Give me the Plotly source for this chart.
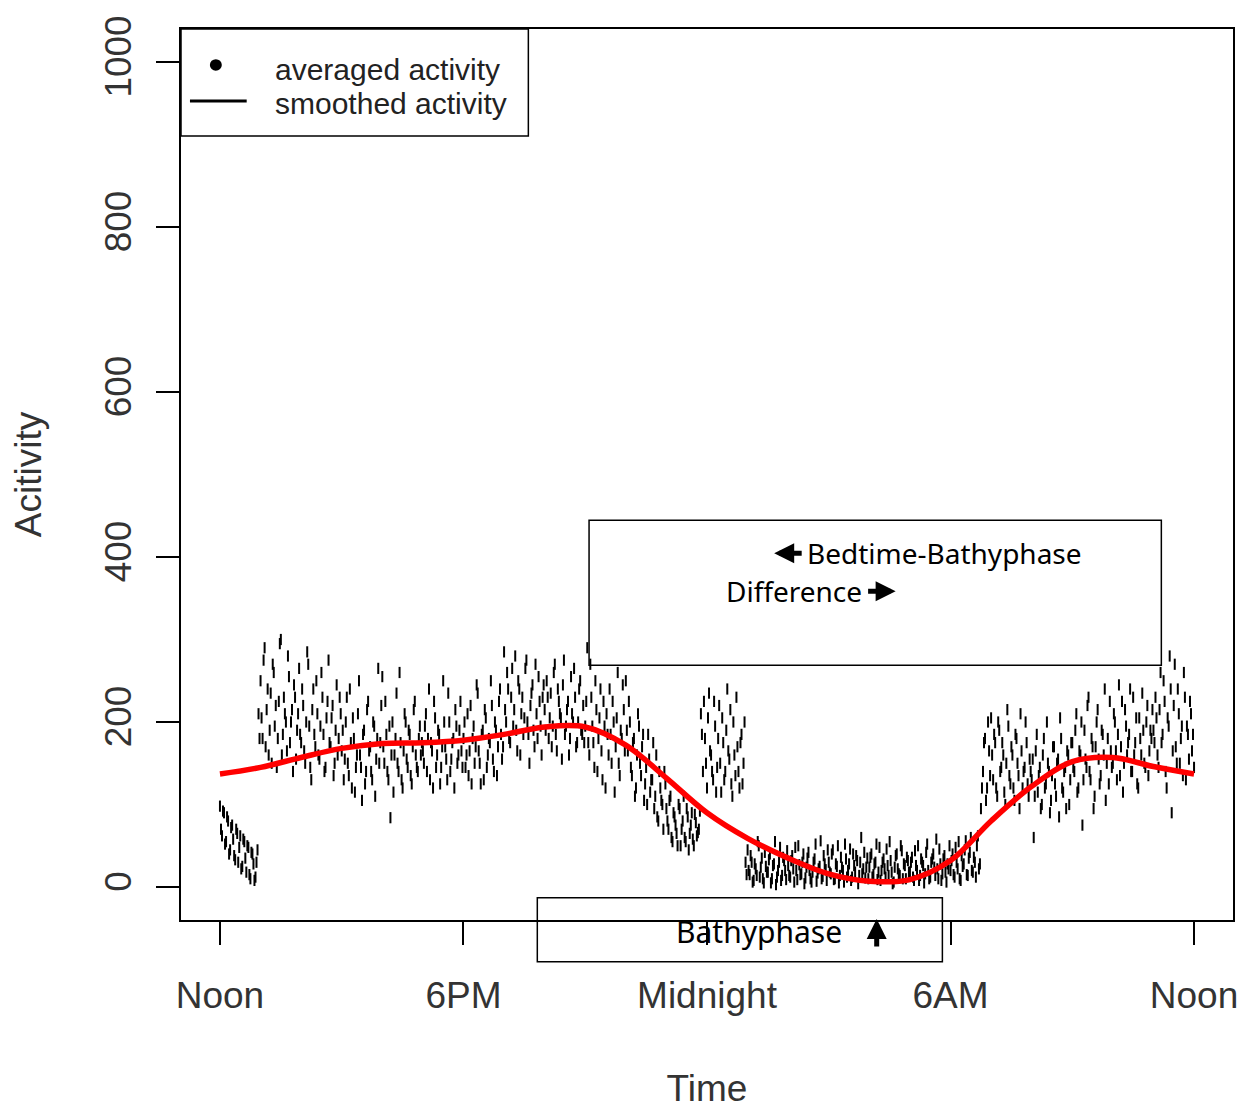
import plotly.graph_objects as go

# ---- data (hours after noon) ----
tick_vals = [0, 6, 12, 18, 24]
tick_text = ["Noon", "6PM", "Midnight", "6AM", "Noon"]
y_ticks = [0, 200, 400, 600, 800, 1000]

# averaged activity, one value every 3 minutes (20 per hour), hour rows
activity_a = [
    98, 62, 90, 55, 80, 45, 75, 38, 70, 30, 62, 25, 55, 18, 48, 10, 40, 8, 30, 210,
    250, 180, 290, 215, 160, 235, 270, 195, 145, 225, 300, 185, 210, 165, 255, 200, 140, 230, 190, 265,
    175, 220, 150, 285, 195, 130, 240, 170, 210, 155, 260, 185, 145, 225, 175, 205, 135, 190, 160, 230,
    165, 130, 200, 150, 240, 120, 180, 145, 210, 160, 105, 190, 140, 225, 170, 130, 195, 155, 265, 175,
    255, 150, 185, 130, 84, 200, 160, 235, 140, 175, 120, 210, 155, 190, 135, 170, 225, 145, 180, 160,
    165, 195, 140, 240, 175, 120, 205, 160, 185, 145, 250, 170, 130, 200, 155, 180, 215, 150, 190, 165,
    180, 145, 210, 165, 125, 195, 170, 235, 150, 185, 130, 205, 160, 175, 220, 140, 190, 170, 240, 155,
    285, 200, 240, 175, 265, 215, 190, 250, 160, 230, 205, 275, 185, 220, 245, 170, 210, 255, 195, 230,
    215, 250, 180, 235, 195, 270, 165, 225, 205, 245, 185, 215, 160, 255, 200, 230, 175, 240, 190, 220,
    195, 290, 160, 230, 175, 250, 140, 205, 165, 225, 120, 185, 240, 150, 200, 170, 260, 135, 180, 215,
    250, 165, 200, 135, 180, 120, 210, 150, 170, 105, 145, 185, 115, 130, 95, 160, 80, 120, 100, 140,
    95, 70, 110, 55, 85, 65, 100, 50, 80, 60, 95, 45, 75, 58, 88, 62, 70, 210, 140, 180,
    120, 235, 160, 130, 195, 145, 220, 115, 175, 140, 240, 155, 125, 200, 135, 170, 120, 185, 150, 30,
    45, 15, 30, 8, 22, 55, 12, 35, 5, 25, 18, 40, 10, 28, 3, 20, 48, 14, 32, 9,
    26, 12, 38, 6, 20, 50, 15, 30, 4, 24, 42, 10, 18, 34, 7, 22, 56, 13, 28, 8,
    30, 16, 45, 10, 25, 5, 36, 20, 52, 12, 28, 8, 40, 18, 32, 14, 60, 22, 11, 35,
    24, 40, 15, 30, 9, 48, 20, 34, 12, 26, 55, 18, 6, 38, 22, 14, 44, 28, 10, 32,
    18, 36, 8, 26, 50, 14, 30, 5, 42, 20, 12, 34, 24, 58, 10, 28, 16, 38, 6, 22,
    20, 40, 12, 30, 55, 8, 25, 45, 15, 35, 60, 18, 30, 50, 22, 95, 140, 180, 120, 165,
    205, 130, 175, 110, 190, 145, 160, 100, 215, 135, 170, 120, 185, 150, 95, 165, 140, 200, 125, 155,
    130, 60, 165, 115, 145, 100, 180, 125, 150, 90, 135, 170, 110, 155, 205, 120, 140, 95, 160, 130,
    175, 140, 210, 120, 160, 75, 190, 145, 230, 130, 170, 110, 200, 155, 135, 185, 240, 150, 125, 165,
    150, 200, 130, 245, 170, 115, 215, 160, 185, 140, 230, 175, 125, 205, 160, 190, 145, 220, 165, 180,
    190, 230, 160, 215, 175, 250, 140, 205, 280, 90, 220, 170, 240, 150, 195, 260, 130, 185, 225, 165,
    145,
]
# the in-between minutes (offset by 1.5 minutes), same hour rows
activity_b = [
    70, 92, 52, 85, 40, 72, 58, 33, 65, 48, 22, 58, 35, 50, 15, 42, 28, 12, 45, 180,
    205, 275, 170, 240, 190, 150, 260, 220, 180, 295, 160, 230, 200, 280, 175, 215, 245, 155, 210, 185,
    240, 165, 200, 270, 145, 215, 185, 250, 160, 195, 230, 140, 205, 275, 170, 220, 150, 245, 180, 210,
    190, 155, 230, 135, 175, 205, 115, 160, 250, 145, 185, 125, 215, 165, 140, 200, 110, 180, 150, 220,
    170, 225, 140, 195, 160, 115, 180, 150, 260, 130, 165, 200, 145, 185, 125, 215, 160, 140, 195, 175,
    150, 210, 180, 130, 165, 225, 145, 190, 125, 170, 200, 155, 235, 140, 175, 120, 195, 160, 225, 145,
    200, 160, 135, 220, 180, 150, 245, 165, 125, 190, 215, 145, 180, 250, 155, 200, 135, 225, 185, 170,
    215, 260, 180, 230, 195, 280, 165, 240, 210, 185, 265, 200, 150, 235, 190, 270, 180, 225, 160, 245,
    190, 230, 205, 170, 260, 185, 240, 210, 155, 275, 195, 225, 180, 210, 265, 170, 200, 250, 185, 175,
    225, 175, 270, 195, 145, 215, 180, 240, 130, 195, 210, 160, 185, 225, 115, 205, 150, 190, 245, 165,
    190, 225, 145, 175, 110, 160, 195, 135, 185, 125, 100, 155, 130, 175, 110, 85, 140, 105, 70, 125,
    80, 105, 60, 90, 75, 50, 95, 70, 110, 55, 85, 65, 90, 50, 78, 66, 92, 185, 225, 150,
    205, 165, 140, 225, 115, 180, 150, 205, 130, 190, 165, 215, 110, 160, 230, 140, 175, 125, 200, 15,
    20, 38, 6, 28, 14, 50, 24, 10, 42, 18, 33, 5, 26, 55, 12, 30, 8, 36, 20, 44,
    14, 32, 22, 48, 9, 27, 16, 40, 11, 35, 20, 6, 30, 52, 17, 25, 10, 38, 21, 45,
    18, 40, 9, 28, 50, 14, 24, 6, 34, 20, 46, 12, 26, 38, 4, 30, 16, 42, 24, 10,
    36, 12, 28, 52, 18, 8, 30, 22, 46, 14, 32, 4, 24, 40, 16, 50, 10, 26, 36, 18,
    30, 12, 44, 20, 8, 34, 26, 16, 52, 10, 30, 40, 14, 22, 46, 8, 34, 18, 28, 50,
    32, 15, 48, 22, 10, 38, 28, 56, 14, 42, 20, 36, 12, 62, 28, 120, 175, 105, 200, 135,
    160, 185, 120, 200, 140, 175, 115, 150, 195, 125, 160, 105, 180, 135, 210, 120, 145, 175, 110, 140,
    155, 110, 185, 135, 95, 160, 120, 200, 140, 105, 170, 125, 150, 85, 180, 115, 145, 165, 100, 175,
    145, 190, 115, 165, 200, 130, 155, 220, 140, 180, 95, 170, 215, 125, 190, 160, 105, 180, 225, 145,
    210, 165, 185, 135, 225, 150, 195, 175, 240, 140, 160, 205, 120, 180, 235, 150, 200, 135, 190, 215,
    175, 205, 145, 260, 185, 225, 120, 195, 240, 165, 270, 150, 210, 180, 135, 230, 195, 155, 210, 185,
]
time_a = [i * 3 / 60 for i in range(len(activity_a))]
time_b = [(i * 3 + 1.5) / 60 for i in range(len(activity_b))]

# smoothed activity, hourly
smooth_time = list(range(25))
smooth = [137, 145, 157, 168, 174, 175, 178, 185, 194, 194, 172, 132, 90, 59,
          35, 16, 7, 9, 32, 80, 122, 152, 157, 146, 137]

FONT = "Liberation Sans, Arial, sans-serif"
ANN = "Noto Sans, DejaVu Sans, sans-serif"

fig = go.Figure()
fig.add_trace(go.Scatter(
    x=time_a + time_b, y=activity_a + activity_b, mode="markers",
    marker=dict(symbol="line-ns", size=8, color="black",
                line=dict(color="black", width=2)),
    showlegend=False, hoverinfo="skip"))
fig.add_trace(go.Scatter(
    x=smooth_time, y=smooth, mode="lines",
    line=dict(color="#ff0000", width=5.5, shape="spline", smoothing=1.0),
    showlegend=False))

# figure geometry (plot box in the reference: x 181..1237, y 18..933)
W, H = 1238, 1102
L, T = 173, 9
pw, ph = 1057, 921
R = W - L - pw
B = H - T - ph
BX0, BX1, BY0, BY1 = 181, 1238, 18, 934


def px(x):
    return (x - BX0) / (BX1 - BX0)


def py(y):
    return (BY1 - y) / (BY1 - BY0)


shapes = [
    dict(type="rect", xref="paper", yref="paper",
         x0=px(181), x1=px(530), y0=py(128), y1=py(18),
         line=dict(color="black", width=1.5)),
    dict(type="circle", xref="paper", yref="paper",
         x0=px(210), x1=px(222), y0=py(61), y1=py(49),
         fillcolor="black", line=dict(color="black", width=0)),
    dict(type="line", xref="paper", yref="paper",
         x0=px(190), x1=px(247), y0=py(92), y1=py(92),
         line=dict(color="black", width=3)),
    dict(type="rect", xref="paper", yref="paper",
         x0=px(591), x1=px(1166), y0=py(672), y1=py(523),
         line=dict(color="black", width=1.5)),
    dict(type="rect", xref="paper", yref="paper",
         x0=px(539), x1=px(946), y0=py(977), y1=py(911),
         line=dict(color="black", width=1.5)),
]


def text(t, x, y, anchor, size, family=ANN, color="black"):
    return dict(text=t, x=px(x), y=py(y), xref="paper", yref="paper",
                xanchor=anchor, yanchor="middle", showarrow=False,
                font=dict(family=family, size=size, color=color))


def arrow(hx, hy, tx, ty):
    return dict(text="", x=px(hx), y=py(hy), xref="paper", yref="paper",
                ax=tx - hx, ay=ty - hy, axref="pixel", ayref="pixel",
                showarrow=True, arrowhead=2, arrowsize=0.8, arrowwidth=5,
                arrowcolor="black", standoff=0, startstandoff=0)


annotations = [
    text("averaged activity", 273, 60, "left", 30, FONT, "#222"),
    text("smoothed activity", 273, 95, "left", 30, FONT, "#222"),
    text("Bedtime-Bathyphase", 808, 557, "left", 28),
    text("Difference", 867, 596, "right", 28),
    text("Bathyphase", 762, 946, "center", 30),
    arrow(777, 557, 806, 557),
    arrow(899, 596, 870, 596),
    arrow(880, 933, 880, 962),
]

fig.update_layout(
    width=W, height=H,
    margin=dict(l=L, r=R, t=T, b=B, pad=0),
    paper_bgcolor="white", plot_bgcolor="white",
    font=dict(family=FONT, size=37, color="#333"),
    shapes=shapes, annotations=annotations,
    xaxis=dict(range=[-0.96, 24.96], tickvals=tick_vals, ticktext=tick_text,
               ticks="outside", ticklen=23, tickwidth=1.5, tickcolor="black",
               showline=True, linecolor="black", linewidth=1.5, mirror=True,
               showgrid=False, zeroline=False, ticklabelstandoff=19,
               ticklabeloverflow="allow",
               title=dict(text="Time", font=dict(size=37, family=FONT, color="#333"), standoff=60)),
    yaxis=dict(range=[-40, 1040], tickvals=y_ticks,
               ticks="outside", ticklen=23, tickwidth=1.5, tickcolor="black",
               tickangle=-90, ticklabeloverflow="allow",
               showline=True, linecolor="black", linewidth=1.5, mirror=True,
               showgrid=False, zeroline=False, ticklabelstandoff=10,
               title=dict(text="Acitivity", font=dict(size=37, family=FONT, color="#333"), standoff=50)),
)

fig.write_html("out.html")
